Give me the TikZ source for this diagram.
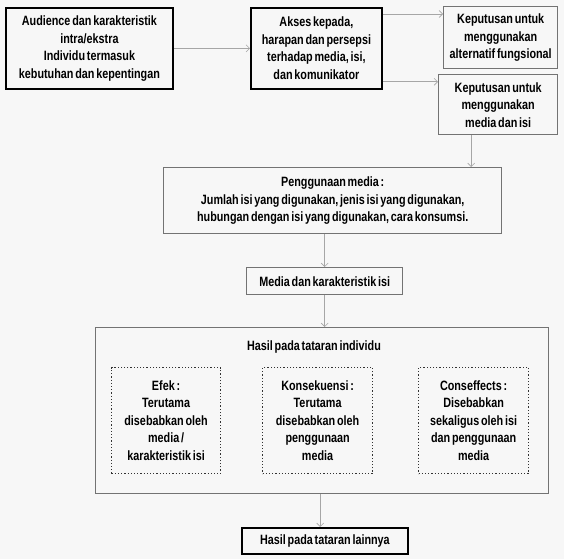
\documentclass[tikz,border=0pt]{standalone}
\usepackage{fontspec}
\setmainfont{Liberation Sans}[FakeStretch=0.8, WordSpace=0.6]
\usetikzlibrary{arrows.meta}

\begin{document}
\begin{tikzpicture}[
    x=1pt, y=-1pt,
    every node/.style={font=\fontsize{13.5}{17.5}\selectfont\bfseries, align=center, inner sep=0pt},
    >={Straight Barb[length=3.5pt, width=7pt]},
    link/.style={->, line width=0.6pt, gray!70},
    darkbox/.style={draw=black, line width=1.8pt, anchor=north west},
    lightbox/.style={draw=gray!90!black, line width=1.4pt, anchor=north west},
    dotbox/.style={draw=black!80, dotted, line width=1.2pt, anchor=north west},
]

% === Background ===
\fill[black!3] (0,0) rectangle (564,559);
\useasboundingbox (0,0) rectangle (564,559);

% === Top row ===
\node[darkbox, minimum width=167pt, minimum height=81pt] (audience) at (5,7)
    {Audience dan karakteristik\\ intra/ekstra\\ Individu termasuk\\ kebutuhan dan kepentingan};
\node[darkbox, minimum width=131pt, minimum height=81pt] (akses) at (250,7)
    {Akses kepada,\\ harapan dan persepsi\\ terhadap media, isi,\\ dan komunikator};
\node[lightbox, minimum width=114pt, minimum height=62pt] (alternatif) at (443,6)
    {Keputusan untuk\\ menggunakan\\ alternatif fungsional};
\node[lightbox, minimum width=119pt, minimum height=60pt] (pilihmedia) at (438,74)
    {Keputusan untuk\\ menggunakan\\ media dan isi};

% === Middle column ===
\node[lightbox, minimum width=338pt, minimum height=66pt] (penggunaan) at (163,167)
    {Penggunaan media :\\ Jumlah isi yang digunakan, jenis isi yang digunakan,\\ hubungan dengan isi yang digunakan, cara konsumsi.};
\node[lightbox, minimum width=156pt, minimum height=27pt] (karakter) at (246,267)
    {Media dan karakteristik isi};

% === Outcomes at individual level ===
\node[lightbox, minimum width=453pt, minimum height=166pt] (hasil) at (95,327) {};
\node (hasiltitle) at (314,347) {Hasil pada tataran individu};
\node[dotbox, minimum width=109pt, minimum height=106pt] (efek) at (111,367)
    {Efek :\\ Terutama\\ disebabkan oleh\\ media /\\ karakteristik isi};
\node[dotbox, minimum width=110pt, minimum height=106pt] (konsekuensi) at (262,367)
    {Konsekuensi :\\ Terutama\\ disebabkan oleh\\ penggunaan\\ media};
\node[dotbox, minimum width=110pt, minimum height=106pt] (conseffects) at (418,367)
    {Conseffects :\\ Disebabkan\\ sekaligus oleh isi\\ dan penggunaan\\ media};
\node[darkbox, minimum width=166pt, minimum height=26pt] (lainnya) at (241,527)
    {Hasil pada tataran lainnya};

% === Connectors ===
\coordinate (aksesup) at ([yshift=-7pt]akses.north east);
\coordinate (aksesdown) at ([yshift=8pt]akses.south east);
\coordinate (pilihout) at ([xshift=-27pt]pilihmedia.south);
\draw[link] (audience) -- (akses);
\draw[link] (aksesup) -- (aksesup -| alternatif.west);
\draw[link] (aksesdown) -- (aksesdown -| pilihmedia.west);
\draw[link] (pilihout) -- (pilihout |- penggunaan.north);
\draw[link] (penggunaan.south -| karakter.north) -- (karakter.north);
\draw[link] (karakter.south) -- (karakter.south |- hasil.north);
\draw[link] ([xshift=-2pt]hasil.south) -- ([xshift=-2pt]hasil.south |- lainnya.north);

\end{tikzpicture}
\end{document}
